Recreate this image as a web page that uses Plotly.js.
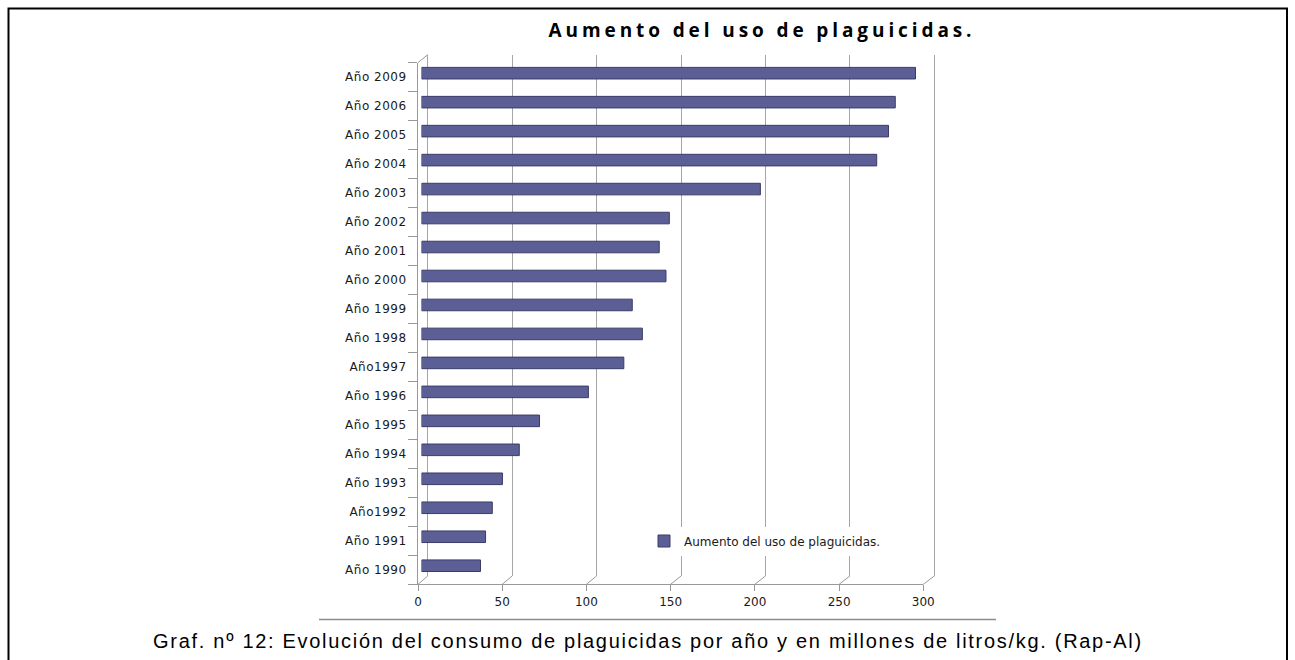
<!DOCTYPE html>
<html>
<head>
<meta charset="utf-8">
<script src="https://cdn.plot.ly/plotly-3.0.1.min.js"></script>
<style>
  html, body { margin: 0; padding: 0; background: #ffffff; }
  #chart { width: 1295px; height: 660px; }
  #chart .gtitle { letter-spacing: 3.9px; }
  #chart .ytick text { letter-spacing: 0.5px; }
  #chart .annotation-text { letter-spacing: 1.7px; }
</style>
</head>
<body>
<div id="chart"></div>
<script>
// ---- data ----
const categories = ["Año 1990", "Año 1991", "Año1992", "Año 1993", "Año 1994", "Año 1995",
                    "Año 1996", "Año1997", "Año 1998", "Año 1999", "Año 2000", "Año 2001",
                    "Año 2002", "Año 2003", "Año 2004", "Año 2005", "Año 2006", "Año 2009"];
const values = [35, 38, 42, 48, 58, 70, 99, 120, 131, 125, 145, 141, 147, 201, 270, 277, 281, 293];
const seriesName = "Aumento del uso de plaguicidas.";
const xTickValues = [0, 50, 100, 150, 200, 250, 300];
const chartTitle = "Aumento del uso de plaguicidas.";
const caption = "Graf. nº 12: Evolución del consumo de plaguicidas por año y en millones de litros/kg. (Rap-Al)";

// ---- pixel layout helpers ----
const W = 1295, H = 660;
const px = v => v / W;
const py = v => 1 - v / H;
const xMax = 300;
const pad = 1; // data-unit padding so edge gridlines are drawn

// front plane, mid (bars), back wall
const front = {x0: 418, x1: 923.3, yTop: 62.7, yBot: 584.3};
const back  = {x0: 427.7, x1: 934.3, yTop: 54.7, yBot: 576};
const mid   = {x0: 421.5, x1: 927.3, yTop: 58.7, yBot: 580.2};
const backScale = (back.x1 - back.x0) / xMax;

const gridCol = "#a6a6a6";
const axCol = "#999999";

const bars = {
  type: "bar",
  orientation: "h",
  y: categories,
  x: values,
  name: seriesName,
  xaxis: "x3",
  yaxis: "y3",
  width: 0.4,
  marker: {color: "#5c5f96", line: {color: "#3a3c66", width: 1}},
  showlegend: true,
  hoverinfo: "x+y"
};

// decorative 3D floor connectors
const shapes = [];
const fx = v => front.x0 + (front.x1 - front.x0) * v / xMax;
const bx = v => back.x0 + (back.x1 - back.x0) * v / xMax;
xTickValues.forEach(v => {
  shapes.push({type: "line", xref: "paper", yref: "paper",
    x0: px(fx(v)), y0: py(front.yBot), x1: px(bx(v)), y1: py(back.yBot),
    line: {color: axCol, width: 1}});
});
shapes.push({type: "line", xref: "paper", yref: "paper",
  x0: px(front.x0), y0: py(front.yTop), x1: px(back.x0), y1: py(back.yTop),
  line: {color: axCol, width: 1}});
// chart bottom rule and outer frame
shapes.push({type: "line", xref: "paper", yref: "paper",
  x0: px(319), y0: py(619.5), x1: px(996), y1: py(619.5),
  line: {color: "#8c8c8c", width: 1.5}});
shapes.push({type: "rect", xref: "paper", yref: "paper",
  x0: px(8.5), y0: py(8.5), x1: px(1287), y1: py(720),
  line: {color: "#000000", width: 2}, fillcolor: "rgba(0,0,0,0)"});

const layout = {
  width: W, height: H,
  margin: {l: 0, r: 0, t: 0, b: 0, pad: 0},
  paper_bgcolor: "#ffffff",
  plot_bgcolor: "rgba(0,0,0,0)",
  font: {family: "DejaVu Sans, Verdana, sans-serif", size: 12, color: "#1a1a1a"},
  title: {
    text: chartTitle,
    x: px(762), xref: "paper", xanchor: "center",
    y: py(30), yref: "paper", yanchor: "middle",
    font: {family: "Open Sans, sans-serif", size: 19, color: "#000000", weight: "bold"}
  },
  showlegend: true,
  legend: {
    x: px(644), y: py(541), xanchor: "left", yanchor: "middle",
    bgcolor: "#ffffff", borderwidth: 0,
    font: {family: "DejaVu Sans, sans-serif", size: 12, color: "#1a1a1a"},
    itemwidth: 30
  },
  // front axes (labels, axis lines)
  xaxis: {
    domain: [px(front.x0), px(front.x1)], range: [0, xMax], anchor: "y",
    tickvals: xTickValues, ticks: "outside", ticklen: 6, tickcolor: axCol,
    showline: true, linecolor: axCol, linewidth: 1,
    showgrid: false, zeroline: false, fixedrange: true,
    tickfont: {size: 12, color: "#1a1a1a"}
  },
  yaxis: {
    domain: [py(front.yBot), py(front.yTop)], type: "category",
    categoryorder: "array", categoryarray: categories,
    range: [-0.5, categories.length - 0.5], anchor: "x",
    ticks: "outside", tickson: "boundaries", ticklen: 9, tickcolor: axCol,
    showline: true, linecolor: axCol, linewidth: 1,
    showgrid: false, zeroline: false, fixedrange: true, ticklabelstandoff: 8,
    tickfont: {size: 12, color: "#1a1a1a"}
  },
  // back wall (gridlines)
  xaxis2: {
    domain: [px(back.x0 - pad * backScale), px(back.x1 + pad * backScale)],
    range: [-pad, xMax + pad], anchor: "y2",
    tickvals: xTickValues, showticklabels: false, ticks: "",
    showgrid: true, gridcolor: gridCol, gridwidth: 1,
    showline: false, zeroline: false, fixedrange: true
  },
  yaxis2: {
    domain: [py(back.yBot), py(back.yTop)], type: "category",
    categoryorder: "array", categoryarray: categories,
    range: [-0.5, categories.length - 0.5], anchor: "x2",
    showticklabels: false, ticks: "", showgrid: false, showline: false,
    zeroline: false, fixedrange: true
  },
  // mid depth (bars)
  xaxis3: {
    domain: [px(mid.x0), px(mid.x1)], range: [0, xMax], anchor: "y3",
    visible: false, fixedrange: true
  },
  yaxis3: {
    domain: [py(mid.yBot), py(mid.yTop)], type: "category",
    categoryorder: "array", categoryarray: categories,
    range: [-0.5, categories.length - 0.5], anchor: "x3",
    visible: false, fixedrange: true
  },
  shapes: shapes,
  annotations: [{
    text: caption, xref: "paper", yref: "paper",
    x: px(647.5), y: py(641), xanchor: "center", yanchor: "middle",
    showarrow: false,
    font: {family: "Liberation Sans, Arial, sans-serif", size: 20, color: "#000000"}
  }]
};

// empty helper traces so the front and back axes are instantiated
const frontTrace = {type: "scatter", x: [], y: [], xaxis: "x", yaxis: "y",
                    showlegend: false, hoverinfo: "skip"};
const backTrace = {type: "scatter", x: [], y: [], xaxis: "x2", yaxis: "y2",
                   showlegend: false, hoverinfo: "skip"};

Plotly.newPlot("chart", [backTrace, frontTrace, bars], layout, {displayModeBar: false, staticPlot: true});
</script>
</body>
</html>
